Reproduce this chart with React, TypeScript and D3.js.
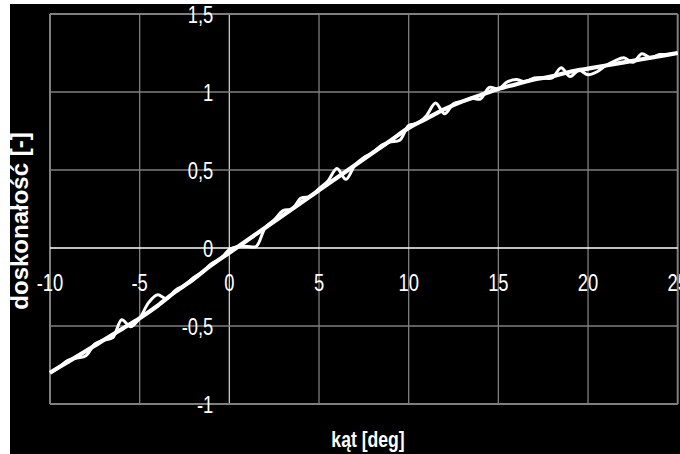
import React from "react";
import * as d3 from "d3";

const xTicks = [-10, -5, 0, 5, 10, 15, 20, 25];
const yTicks = [-1, -0.5, 0, 0.5, 1, 1.5];
const yTickLabels = ["-1", "-0,5", "0", "0,5", "1", "1,5"];

const smoothAngles = [-10, -9, -8, -7, -6, -5, -4, -3, -2, -1, 0, 1, 2, 3, 4, 5, 6, 7, 8, 9, 10, 11, 12, 13, 14, 15, 16, 17, 18, 19, 20, 21, 22, 23, 24, 25];
const smoothValues = [-0.8, -0.73, -0.66, -0.59, -0.52, -0.45, -0.37, -0.28, -0.2, -0.11, -0.03, 0.05, 0.13, 0.21, 0.29, 0.37, 0.45, 0.53, 0.61, 0.69, 0.77, 0.83, 0.89, 0.94, 0.98, 1.02, 1.05, 1.08, 1.1, 1.13, 1.15, 1.17, 1.19, 1.21, 1.23, 1.25];

const wavyAngles = [-10, -9.5, -9, -8.5, -8, -7.5, -7, -6.5, -6, -5.5, -5, -4.5, -4, -3.5, -3, -2.5, -2, -1.5, -1, -0.5, 0, 0.5, 1, 1.5, 2, 2.5, 3, 3.5, 4, 4.5, 5, 5.5, 6, 6.5, 7, 7.5, 8, 8.5, 9, 9.5, 10, 10.5, 11, 11.5, 12, 12.5, 13, 13.5, 14, 14.5, 15, 15.5, 16, 16.5, 17, 17.5, 18, 18.5, 19, 19.5, 20, 20.5, 21, 21.5, 22, 22.5, 23, 23.5, 24, 24.5, 25];
const wavyValues = [-0.8, -0.765, -0.72, -0.705, -0.69, -0.615, -0.59, -0.575, -0.46, -0.505, -0.45, -0.35, -0.3, -0.325, -0.27, -0.24, -0.19, -0.155, -0.1, -0.07, -0.01, 0.01, 0.01, 0.01, 0.13, 0.18, 0.24, 0.25, 0.32, 0.33, 0.38, 0.43, 0.51, 0.44, 0.53, 0.58, 0.61, 0.66, 0.68, 0.69, 0.785, 0.8, 0.85, 0.93, 0.86, 0.925, 0.94, 0.96, 0.955, 1.03, 1.02, 1.065, 1.08, 1.065, 1.09, 1.09, 1.09, 1.155, 1.1, 1.14, 1.11, 1.13, 1.17, 1.2, 1.22, 1.19, 1.245, 1.22, 1.24, 1.24, 1.25];

const xTitle = "kąt [deg]";
const yTitle = "doskonałość [-]";

export default function App() {
  const W = 680;
  const H = 454;
  const x = d3.scaleLinear().domain([-10, 25]).range([50, 677.7]);
  const y = d3.scaleLinear().domain([-1, 1.5]).range([404, 14]);
  const font = "'Liberation Sans', Arial, sans-serif";

  const lineGen = d3
    .line<[number, number]>()
    .x((d) => x(d[0]))
    .y((d) => y(d[1]))
    .curve(d3.curveCatmullRom.alpha(0.5));

  const smoothPts: [number, number][] = smoothAngles.map((a, i) => [a, smoothValues[i]]);
  const wavyPts: [number, number][] = wavyAngles.map((a, i) => [a, wavyValues[i]]);

  const [x0, x1] = x.range();
  const [y0, y1] = y.range();

  return (
    <svg
      width={W}
      height={H}
      style={{ position: "absolute", left: 0, top: 0, background: "#fff" }}
    >
      <rect x={10} y={4} width={W - 10} height={H - 4} fill="#000" />
      <defs>
        <clipPath id="plotclip">
          <rect x={x0 - 2} y={y1 - 4} width={x1 - x0 + 4} height={y0 - y1 + 8} />
        </clipPath>
      </defs>
      {xTicks.map((t) => (
        <line
          key={"gx" + t}
          x1={x(t)}
          x2={x(t)}
          y1={y1}
          y2={y0}
          stroke={t === 0 ? "#c8c8c8" : "#7f7f7f"}
          strokeWidth={t === -10 || t === 25 ? 2 : 1.3}
        />
      ))}
      {yTicks.map((t) => (
        <line
          key={"gy" + t}
          x1={x0}
          x2={x1}
          y1={y(t)}
          y2={y(t)}
          stroke={t === 0 ? "#ffffff" : "#7f7f7f"}
          strokeWidth={t === -1 || t === 1.5 ? 2 : 1.3}
        />
      ))}
      <g clipPath="url(#plotclip)">
        <path d={lineGen(smoothPts) || ""} fill="none" stroke="#fff" strokeWidth={4.2} strokeLinejoin="round" />
        <path d={lineGen(wavyPts) || ""} fill="none" stroke="#fff" strokeWidth={3} strokeLinejoin="round" />
      </g>
      {yTicks.map((t, i) => (
        <text
          key={"ly" + t}
          transform={`translate(${x(0) - 16},${y(t) + 8.5}) scale(0.8,1)`}
          textAnchor="end"
          fill="#fff"
          fontFamily={font}
          fontSize={23}
        >
          {yTickLabels[i]}
        </text>
      ))}
      {xTicks.map((t) => (
        <text
          key={"lx" + t}
          transform={`translate(${x(t)},${y(0) + 42.5}) scale(0.8,1)`}
          textAnchor="middle"
          fill="#fff"
          fontFamily={font}
          fontSize={23}
        >
          {t}
        </text>
      ))}
      <text
        transform={`translate(368,447) scale(0.8,1)`}
        textAnchor="middle"
        fill="#fff"
        fontFamily={font}
        fontWeight="bold"
        fontSize={22}
      >
        {xTitle}
      </text>
      <text
        transform={`translate(28,221) rotate(-90)`}
        textAnchor="middle"
        fill="#fff"
        fontFamily={font}
        fontWeight="bold"
        fontSize={24}
      >
        {yTitle}
      </text>
    </svg>
  );
}
